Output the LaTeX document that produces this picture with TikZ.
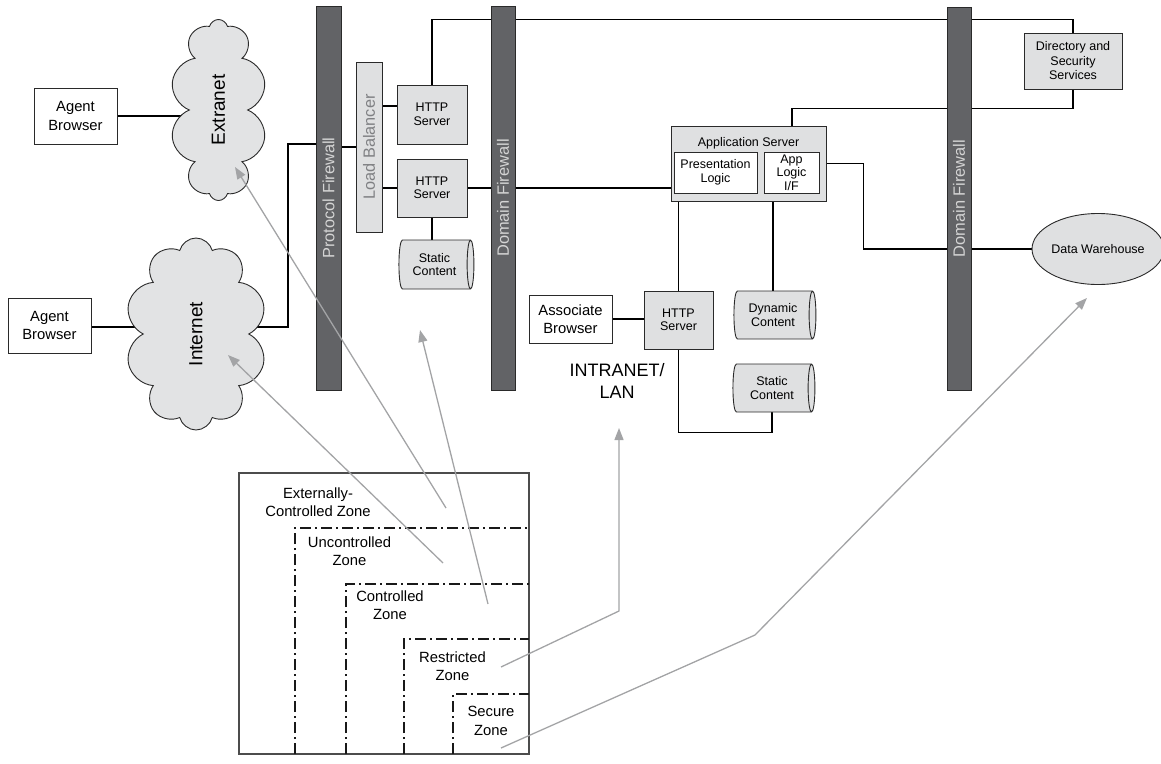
\documentclass[tikz,border=0pt]{standalone}
\usepackage{fontspec}
\setmainfont{Liberation Sans}
\usetikzlibrary{shapes.geometric,shapes.symbols,arrows.meta,calc}
\pgfdeclarelayer{bg}
\pgfsetlayers{bg,main}
\definecolor{boxfill}{HTML}{DFE0E1}
\definecolor{cloudfill}{HTML}{E2E3E4}
\definecolor{fwfill}{HTML}{626366}
\definecolor{fwtext}{HTML}{D4D4D4}
\definecolor{arrowgray}{HTML}{A3A4A6}
\definecolor{lbtext}{HTML}{7F8083}
\definecolor{edge}{HTML}{2A2A2A}
\tikzset{
  smalltext/.style={font=\fontsize{12.5}{13.5}\selectfont},
  midtext/.style={font=\fontsize{14.8}{18.3}\selectfont},
  box/.style={draw=edge, line width=0.9pt, fill=boxfill, align=center, inner sep=0pt, smalltext},
  wbox/.style={draw=edge, line width=0.9pt, fill=white, align=center, inner sep=0pt},
  firewall/.style={draw=edge, fill=fwfill, line width=0.8pt, minimum width=25pt, minimum height=384pt, inner sep=0pt, text=fwtext, font=\fontsize{16.4}{18}\selectfont},
  cyl/.style={cylinder, shape border rotate=0, draw=edge, line width=0.9pt, fill=boxfill, aspect=0.3, inner sep=0pt, align=center, smalltext},
  netcloud/.style={cloud, cloud puffs=10, cloud ignores aspect, draw=edge, line width=0.9pt, fill=cloudfill, inner sep=0pt, font=\fontsize{19}{20}\selectfont},
  conn/.style={draw=black, line width=1.1pt},
  zoneline/.style={draw=black!90, line width=2.2pt, dash pattern=on 11pt off 4pt on 2pt off 4pt},
  zonelabel/.style={align=center, inner sep=0pt, midtext},
  arr/.style={draw=arrowgray, line width=1.3pt, -{Triangle[length=12pt,width=9pt]}},
}
\begin{document}
\begin{tikzpicture}[x=1pt,y=-1pt]
\useasboundingbox (0,0) rectangle (1161,763);

% networks and agents
\node[wbox, midtext, minimum width=83pt, minimum height=56pt] (ab1) at (75.5,116) {Agent\\Browser};
\node[wbox, midtext, minimum width=83pt, minimum height=55pt] (ab2) at (49.5,325.5) {Agent\\Browser};
\node[netcloud, minimum width=97pt, minimum height=181pt] (ext) at (218.5,110) {\rotatebox{90}{Extranet}};
\node[netcloud, minimum width=142pt, minimum height=192pt] (inet) at (196,334) {\rotatebox{90}{Internet}};

% firewalls
\node[firewall] (pfw) at (328.5,198) {\rotatebox{90}{Protocol Firewall}};
\node[firewall, minimum width=24pt] (dfw1) at (503,198) {\rotatebox{90}{Domain Firewall}};
\node[firewall, minimum width=24pt, minimum height=383pt] (dfw2) at (959,198.5) {\rotatebox{90}{Domain Firewall}};

% DMZ
\node[box, minimum width=26pt, minimum height=170pt, text=lbtext, font=\fontsize{16.3}{18}\selectfont] (lb) at (369,147) {\rotatebox{90}{Load Balancer}};
\node[box, minimum width=70pt, minimum height=59pt] (h1) at (432,114.5) {HTTP\\Server};
\node[box, minimum width=70pt, minimum height=58pt] (h2) at (432,188) {HTTP\\Server};
\node[cyl, minimum height=75pt, minimum width=49pt] (st1) at (434.5,264.5) {Static\\Content};

% application tier
\node[box, minimum width=155pt, minimum height=75pt] (app) at (748.5,163.5) {};
\node[smalltext, inner sep=0pt] (apptitle) at (748.5,143) {Application Server};
\node[wbox, smalltext, minimum width=83pt, minimum height=41pt] (pres) at (715.5,172.5) {Presentation\\Logic};
\node[wbox, smalltext, minimum width=55pt, minimum height=41pt] (alog) at (791.5,172.5) {App\\Logic\\I/F};
\node[box, minimum width=98pt, minimum height=56pt, font=\fontsize{12.5}{14.5}\selectfont] (dir) at (1073,61) {Directory and\\Security\\Services};
\node[ellipse, draw=edge, line width=0.9pt, fill=boxfill, minimum width=128pt, minimum height=71pt, inner sep=0pt, smalltext] (dw) at (1098,249) {Data Warehouse};

% intranet
\node[wbox, midtext, minimum width=83pt, minimum height=48pt] (ab3) at (570.5,319) {Associate\\Browser};
\node[box, minimum width=69pt, minimum height=58pt] (h3) at (678.5,320) {HTTP\\Server};
\node[cyl, minimum height=82pt, minimum width=48pt] (dyn) at (773,315) {Dynamic\\Content};
\node[cyl, minimum height=82pt, minimum width=48pt] (st2) at (772,388) {Static\\Content};
\node[align=center, inner sep=0pt, font=\fontsize{18}{21.7}\selectfont] (lan) at (617,381) {INTRANET/\\LAN};

% connectors
\begin{pgfonlayer}{bg}
\coordinate (j1) at (288,327);
\coordinate (j2) at (288,144);
\draw[conn] (ab1.east) -- (ab1.east -| ext.west);
\draw[conn] (ab2.east |- j1) -- (j1 -| inet.west);
\draw[conn] (inet.east |- j1) -- (j1) -- (j2) -- (j2 -| pfw.east);
\draw[conn] (lb.west) -- (lb.west -| pfw.east);
\draw[conn] ($(h1.west)+(0,-8.5)$) coordinate (t1) -- (t1 -| lb.east);
\draw[conn] (h2.west) -- (h2.west -| lb.east);
\draw[conn] (h1.north) -- ++(0,-65) -| (dir.north);
\draw[conn] (h2.south) -- (h2.south |- st1.north);
\draw[conn] (h2.east) -- (h2.east -| app.west);
\draw[conn] ($(app.north)+(43.5,0)$) -- ++(0,-17) -| (dir.south);
\draw[conn] (app.east) -- ++(37,0) |- (dw.west);
\draw[conn] (h3.north) -- (h3.north |- app.south);
\draw[conn] (dyn.north) -- (dyn.north |- app.south);
\draw[conn] (ab3.east) -- (ab3.east -| h3.west);
\draw[conn] (h3.south) |- ($(st2.south)+(0,20)$) -- (st2.south);
\end{pgfonlayer}

% zones
\draw[draw=black!70, line width=1.1pt] (239,473) rectangle (529,754);
\draw[zoneline] (295,754) |- (529,528);
\draw[zoneline] (346,754) |- (529,584);
\draw[zoneline] (404,754) |- (529,639);
\draw[zoneline] (453,754) |- (529,694);
\node[zonelabel] (zext) at (318,502) {Externally-\\Controlled Zone};
\node[zonelabel] (zunc) at (349.5,551) {Uncontrolled\\Zone};
\node[zonelabel] (zcon) at (390,605) {Controlled\\Zone};
\node[zonelabel] (zres) at (452.5,666) {Restricted\\Zone};
\node[zonelabel] (zsec) at (491,721) {Secure\\Zone};

% pointers
\coordinate (p1s) at (446,508); \coordinate (p1e) at (235,167);
\coordinate (p2s) at (443,563); \coordinate (p2e) at (228,355);
\coordinate (p3s) at (488,604); \coordinate (p3e) at (420,330);
\coordinate (p4s) at (501,667); \coordinate (p4m) at (619,611); \coordinate (p4e) at (619,428);
\coordinate (p5s) at (501,748); \coordinate (p5m) at (755,635); \coordinate (p5e) at (1087,298);
\draw[arr] (p1s) -- (p1e);
\draw[arr] (p2s) -- (p2e);
\draw[arr] (p3s) -- (p3e);
\draw[arr] (p4s) -- (p4m) -- (p4e);
\draw[arr] (p5s) -- (p5m) -- (p5e);
\end{tikzpicture}
\end{document}
